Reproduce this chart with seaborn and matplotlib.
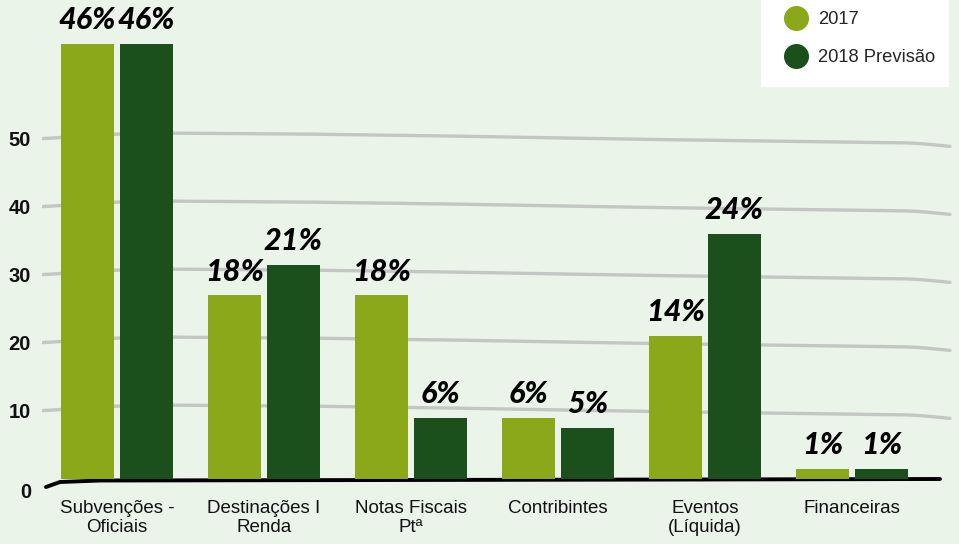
import numpy as np
import pandas as pd
import matplotlib
matplotlib.use("Agg")
import matplotlib.pyplot as plt
import matplotlib.transforms as mtransforms
from matplotlib.lines import Line2D
from matplotlib.patches import Rectangle
import seaborn as sns

# ---- data -------------------------------------------------------------
categories = ["Subvenções -\nOficiais", "Destinações I\nRenda", "Notas Fiscais\nPtª",
              "Contribintes", "Eventos\n(Líquida)", "Financeiras"]
series = ["2017", "2018 Previsão"]
values_2017 = [46, 18, 18, 6, 14, 1]
values_2018 = [46, 21, 6, 5, 24, 1]
axis_ticks = [0, 10, 20, 30, 40, 50]
AXIS_PER_PCT = 1.5          # axis scale units per percentage point

df = pd.DataFrame({
    "categoria": categories * 2,
    "serie": [series[0]] * len(categories) + [series[1]] * len(categories),
    "valor": values_2017 + values_2018,
})

# ---- style ------------------------------------------------------------
BG = "#EAF4E9"
C_LIGHT = "#8AA81A"
C_DARK = "#1B501C"
GRID = "#C4C6C4"
sns.set_theme(style="white")
plt.rcParams["font.family"] = ["Liberation Sans", "DejaVu Sans"]

W, H = 959, 544
fig = plt.figure(figsize=(W / 100, H / 100), dpi=100, facecolor=BG)
x0_px, x1_px, top_px, zero_px = 42, 952, 44, 479
ax = fig.add_axes([x0_px / W, (H - zero_px) / H, (x1_px - x0_px) / W, (zero_px - top_px) / H])
ax.set_facecolor(BG)

px_per_cat = 147.0
first_center_px = 117.0
px_per_pct = 6.8 * AXIS_PER_PCT
y_top = (zero_px - top_px) / px_per_pct

sns.barplot(data=df, x="categoria", y="valor", hue="serie", order=categories,
            hue_order=series, palette=[C_LIGHT, C_DARK], saturation=1,
            width=0.8, gap=0.1, legend=False, ax=ax, zorder=3,
            linewidth=0, edgecolor="none")
ax.set_xlim((x0_px - first_center_px) / px_per_cat, (x1_px - first_center_px) / px_per_cat)
ax.set_ylim(0, y_top)

# hand-drawn style horizontal guides (pixel wobble along the width)
wob_x = np.array([42, 90, 150, 300, 450, 620, 760, 920, 950])
wob_y = np.array([0, -4, -6, -5, -3, 0, 2, 4, 8])
xs_px = np.linspace(42, 950, 300)
offs = np.interp(xs_px, wob_x, wob_y)
offs = np.convolve(np.pad(offs, 6, mode="edge"), np.ones(13) / 13, mode="valid")
for t in axis_ticks[1:]:
    yline = t / AXIS_PER_PCT - offs / px_per_pct
    ax.plot((xs_px - first_center_px) / px_per_cat, yline, color=GRID,
            lw=2.4, solid_capstyle="round", zorder=1)

# brush-stroke baseline
bx = np.array([46, 60, 100, 400, 700, 940])
by = np.array([8, 3, 1.5, 1, 0.5, 0])
ax.plot((bx - first_center_px) / px_per_cat, -by / px_per_pct, color="black",
        lw=2.8, solid_capstyle="round", zorder=2, clip_on=False)

# value labels above each bar
for container, vals in zip(ax.containers, [values_2017, values_2018]):
    for bar, v in zip(container, vals):
        xc = bar.get_x() + bar.get_width() / 2
        ax.annotate(f"{v}%", xy=(xc, min(v, y_top)), xytext=(0, 7),
                    textcoords="offset points", ha="center", va="bottom",
                    fontsize=22, fontweight="black", fontstyle="italic",
                    family=["Lato", "DejaVu Sans"], color="black",
                    annotation_clip=False, zorder=5)

# axes and ticks
ax.set_yticks([t / AXIS_PER_PCT for t in axis_ticks])
ax.set_yticklabels([str(t) for t in axis_ticks], fontsize=14.5, fontweight="bold", color="#111111")
ax.tick_params(axis="y", length=0, pad=8)
ax.tick_params(axis="x", length=0, pad=15, labelsize=13.5, labelcolor="#111111")
ax.set_xlabel("")
ax.set_ylabel("")
for s in ax.spines.values():
    s.set_visible(False)
zero_lab = ax.get_yticklabels()[0]
zero_lab.set_transform(zero_lab.get_transform()
                       + mtransforms.ScaledTranslation(0, -11 / 100, fig.dpi_scale_trans))

# legend on a white card
fig.patches.append(Rectangle((761 / W, (H - 87) / H), 188 / W, 87 / H,
                             transform=fig.transFigure, facecolor="white",
                             edgecolor="none", zorder=2))
handles = [Line2D([], [], marker="o", linestyle="", markersize=17, color=c)
           for c in (C_LIGHT, C_DARK)]
fig.legend(handles, series, loc="upper left", bbox_to_anchor=(785 / W, (H - 11) / H),
           frameon=False, fontsize=13.2, handlelength=1.25, handletextpad=0.55,
           labelspacing=1.15, borderpad=0, borderaxespad=0).set_zorder(3)

fig.savefig("out.png", dpi=100, facecolor=BG)
